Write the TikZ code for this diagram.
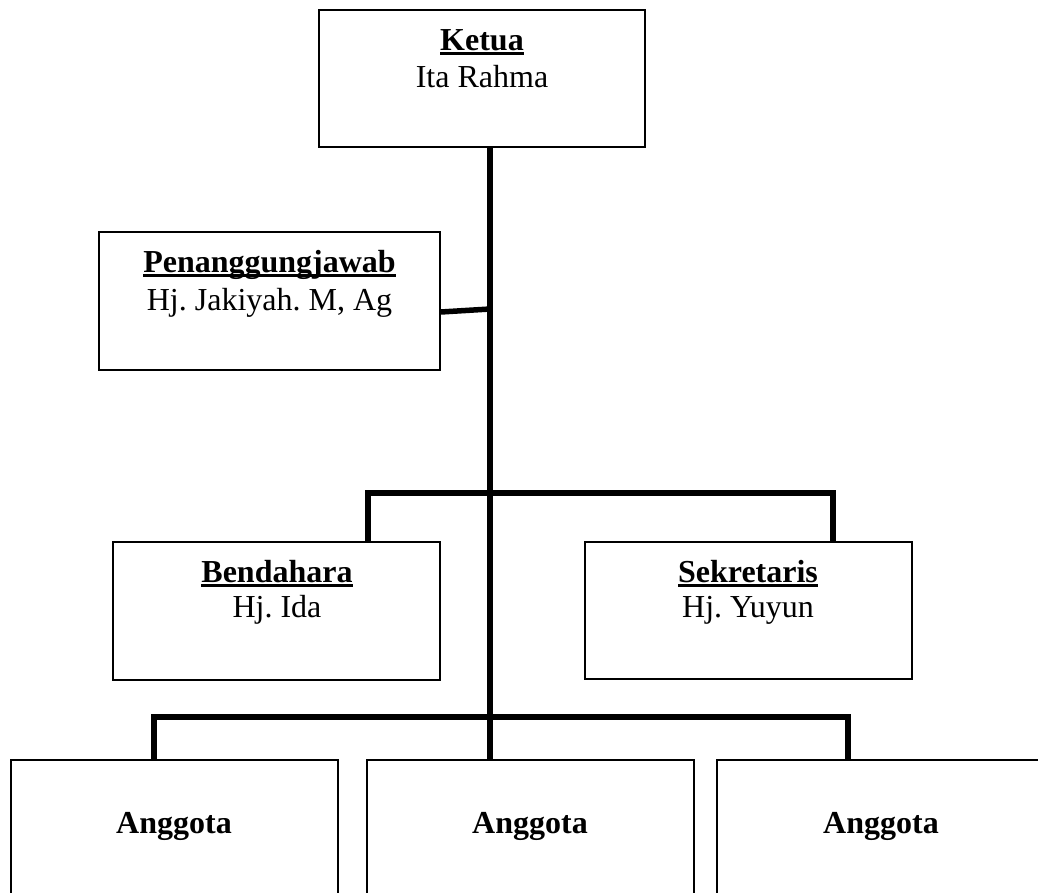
\documentclass[tikz,border=0pt]{standalone}
\usepackage{fontspec}
\setmainfont{Liberation Serif}
\frenchspacing
\newcommand\ulword[1]{\setbox0\hbox{#1}\rlap{\rule[-5bp]{\wd0}{2.8bp}}\box0}
\begin{document}
\begin{tikzpicture}[x=1bp,y=-1bp,
  orgbox/.style={draw, rectangle, line width=1.5bp, inner sep=0pt, fill=white},
  conn/.style={line width=5.5bp, line join=miter},
  txttitle/.style={anchor=base, inner sep=0pt, font=\fontsize{32.12}{38}\selectfont\bfseries},
  txtname/.style={anchor=base, inner sep=0pt, font=\fontsize{32.12}{38}\selectfont}]
\useasboundingbox (0,0) rectangle (1038,893);
\clip (0,0) rectangle (1038,893);
% boxes
\node[orgbox, minimum width=326bp, minimum height=137bp] (ketua) at (482,78.5) {};
\node[orgbox, minimum width=341bp, minimum height=138bp] (pj) at (269.5,301) {};
\node[orgbox, minimum width=327bp, minimum height=138bp] (bend) at (276.5,611) {};
\node[orgbox, minimum width=327bp, minimum height=137bp] (sek) at (748.5,610.5) {};
\node[orgbox, minimum width=327bp, minimum height=200bp] (ang1) at (174.5,860) {};
\node[orgbox, minimum width=327bp, minimum height=200bp] (ang2) at (530.5,860) {};
\node[orgbox, minimum width=328bp, minimum height=200bp] (ang3) at (881,860) {};
% texts
\node[txttitle] (ketua-t) at (482,50) {\ulword{Ketua}};
\node[txtname] (ketua-n) at (482,87) {Ita Rahma};
\node[txttitle] (pj-t) at (269.5,272) {\ulword{Penanggungjawab}};
\node[txtname] (pj-n) at (269.5,310) {Hj. Jakiyah. M, Ag};
\node[txttitle] (bend-t) at (277,582) {\ulword{Bendahara}};
\node[txtname] (bend-n) at (277,617) {Hj. Ida};
\node[txttitle] (sek-t) at (748,582) {\ulword{Sekretaris}};
\node[txtname] (sek-n) at (748,617) {Hj. Yuyun};
\node[txttitle] (ang1-t) at (174,833) {Anggota};
\node[txttitle] (ang2-t) at (530,833) {Anggota};
\node[txttitle] (ang3-t) at (881,833) {Anggota};
% connectors
\coordinate (spine) at (490,0);
\coordinate (pjc) at (490,309);
\coordinate (bl) at (368,493);
\coordinate (br) at (833,493);
\coordinate (al) at (154,717);
\coordinate (ar) at (848,717);
\draw[conn] (ketua.south -| spine) -- (ang2.north -| spine);
\draw[conn] ([yshift=-11bp]pj.east) -- (pjc);
\draw[conn] (bend.north -| bl) -- (bl) -- (br) -- (sek.north -| br);
\draw[conn] (ang1.north -| al) -- (al) -- (ar) -- (ang3.north -| ar);
\end{tikzpicture}
\end{document}
